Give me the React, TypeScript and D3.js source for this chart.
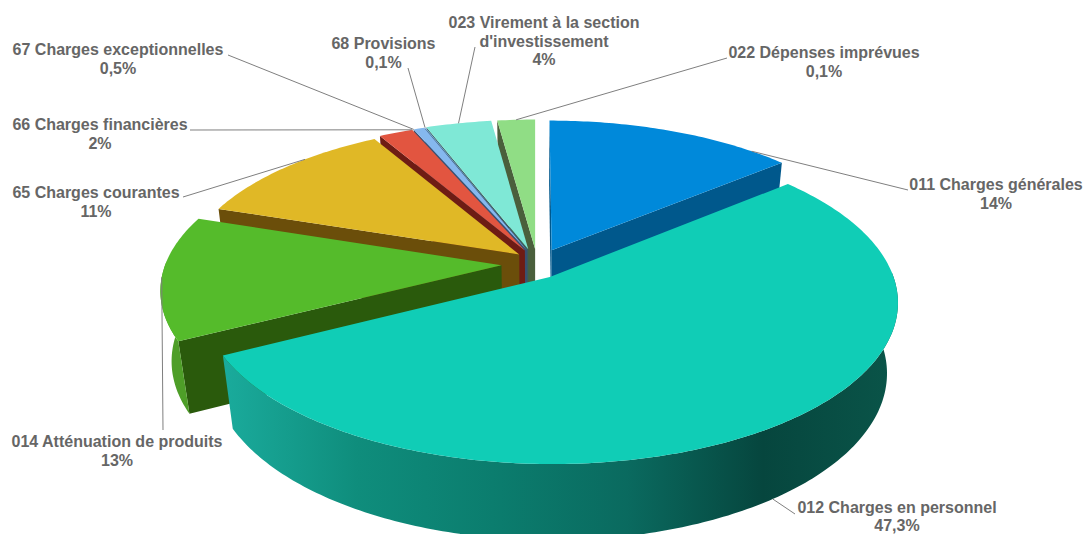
import React from "react";
import * as d3 from "d3";

const categories = [
  "011 Charges générales",
  "012 Charges en personnel",
  "014 Atténuation de produits",
  "65 Charges courantes",
  "66 Charges financières",
  "67 Charges exceptionnelles",
  "68 Provisions",
  "023 Virement à la section|d'investissement",
  "022 Dépenses imprévues",
];
const percentLabels = ["14%", "47,3%", "13%", "11%", "2%", "0,5%", "0,1%", "4%", "0,1%"];
// Angular share each slice occupies in the picture (labels do not sum to 100)
const drawnShares = [13.9, 53.6, 12.8, 11.6, 1.9, 0.6, 0.05, 3.65, 2.1];
const topColors = ["#0089DA", "#10CDB6", "#55BB2B", "#E0B826", "#E25540", "#85B8EE", "#85B8EE", "#7FE8D6", "#90DD85"];
const sideColors = ["#00588C", "#0C7062", "#2A5A0C", "#6B4E0A", "#6E1C14", "#3A5070", "#3A5070", "#3A5F58", "#4A5F3C"];
const rimColors = ["#00588C", "#0C7062", "#4E9E28", "#A88A1C", "#A03A2C", "#5F85AD", "#5F85AD", "#5AA899", "#6AA860"];
const tealRimStops = ["#1AAB9C", "#0F8D7C", "#0B7D6E", "#0A6A5F", "#06463E", "#0A5549"];
const paintOrder = [8, 0, 7, 6, 5, 4, 3, 2, 1];
// sideways correction of the explosion and radius factor, per slice, in pie radii
const explodeShiftU = [0.008, -0.012, 0, 0.03, 0.014, 0.012, 0.012, 0.004, 0.007];
const radiusScale = [1, 1.01, 1, 1, 1, 1, 1, 1, 1];

// label layout: centre x, first baseline y, elbow x/y next to the text, leader fraction in slice, leader depth
const labelX = [996, 897, 117, 96, 100, 118, 383.5, 544, 824];
const labelY = [190, 512.8, 447, 198, 130, 55, 49, 28, 58];
const elbowX = [908, 795, 163, 183, 190, 228, 408, 475, 727];
const elbowY = [190, 514, 430, 197, 130, 55, 68, 47, 58];
const leaderFrac = [0.85, 0.49, 0.5, 0.62, 1, 0, 0.5, 0.5, 0.5];
const leaderDepth = [0, 1, 0, 0, 0, 0, 0, 0, 0];

const W = 1084, H = 534;
const cx = 535, cy = 264, R = 336, Hy = 153, Dz = 72, kv = 0.15, kz = 0.03, explode = 0.1;

const project = (u: number, v: number, z: number): [number, number] => {
  const w = 1 + kv * v + kz * z;
  return [cx + (R * u) / w, cy + (-Hy * v + Dz * z) / w];
};

const pie = d3.pie<number>().sort(null).value((d) => d);
const arcs = pie(drawnShares);
const line = d3.line();

const area = (p: [number, number][]) =>
  d3.sum(p, (a, i) => {
    const b = p[(i + 1) % p.length];
    return a[0] * b[1] - b[0] * a[1];
  });

export default function App() {
  const slices = arcs.map((a, i) => {
    const mid = (a.startAngle + a.endAngle) / 2;
    const ou = explode * Math.sin(mid) + explodeShiftU[i];
    const ov = explode * Math.cos(mid);
    const rs = radiusScale[i];
    const pt = (t: number, r: number, z: number) =>
      project(ou + rs * r * Math.sin(t), ov + rs * r * Math.cos(t), z);
    const n = Math.max(2, Math.ceil((a.endAngle - a.startAngle) / 0.015));
    const angles = d3.range(n + 1).map((k) => a.startAngle + ((a.endAngle - a.startAngle) * k) / n);
    const top = [pt(0, 0, 0), ...angles.map((t) => pt(t, 1, 0))];
    const front = angles.filter((t) => Math.cos(t) <= 0.03);
    const rim = front.length > 1
      ? [...front.map((t) => pt(t, 1, 0)), ...front.slice().reverse().map((t) => pt(t, 1, 1))]
      : null;
    const quad = (t: number): [number, number][] => [pt(t, 0, 0), pt(t, 1, 0), pt(t, 1, 1), pt(t, 0, 1)];
    const qs = quad(a.startAngle), qe = quad(a.endAngle);
    const sides: [number, number][][] = [];
    if (area(qs) < 0) sides.push(qs);
    if (area(qe) > 0) sides.push(qe);
    const lf = a.startAngle + (a.endAngle - a.startAngle) * leaderFrac[i];
    return { i, top, rim, sides, anchor: pt(lf, 1, leaderDepth[i]) };
  });

  const tealRim = slices[1].rim!;
  const [gx0, gx1] = d3.extent(tealRim, (d) => d[0]) as [number, number];

  return (
    <svg width={W} height={H} viewBox={`0 0 ${W} ${H}`} style={{ position: "absolute", left: 0, top: 0, background: "#fff" }}>
      <defs>
        <linearGradient id="tealRim" gradientUnits="userSpaceOnUse" x1={gx0} x2={gx1} y1={0} y2={0}>
          {tealRimStops.map((c, k) => (
            <stop key={k} offset={k / (tealRimStops.length - 1)} stopColor={c} />
          ))}
        </linearGradient>
      </defs>
      {paintOrder.map((idx) => {
        const s = slices[idx];
        return (
          <g key={idx}>
            {s.sides.map((q, k) => (
              <path key={k} d={line(q)! + "Z"} fill={sideColors[idx]} />
            ))}
            {s.rim && <path d={line(s.rim)! + "Z"} fill={idx === 1 ? "url(#tealRim)" : rimColors[idx]} />}
            <path d={line(s.top)! + "Z"} fill={topColors[idx]} />
          </g>
        );
      })}
      {slices.map((s) => (
        <path
          key={s.i}
          d={line([[elbowX[s.i], elbowY[s.i]], s.anchor])!}
          fill="none"
          stroke="#7f7f7f"
          strokeWidth={1}
        />
      ))}
      {categories.map((c, i) => {
        const lines = [...c.split("|"), percentLabels[i]];
        return (
          <text
            key={i}
            textAnchor="middle"
            fontFamily="'Liberation Sans', Arial, sans-serif"
            fontWeight={700}
            fontSize={16}
            fill="#666666"
          >
            {lines.map((l, k) => (
              <tspan key={k} x={labelX[i]} y={labelY[i] + k * 18.6}>
                {l}
              </tspan>
            ))}
          </text>
        );
      })}
    </svg>
  );
}
